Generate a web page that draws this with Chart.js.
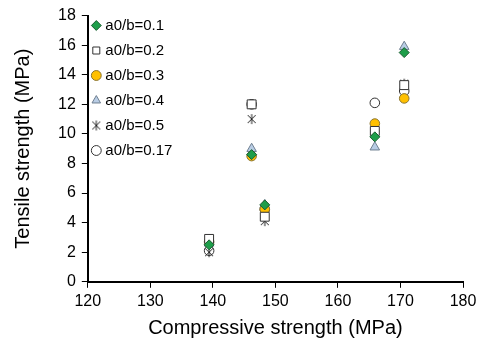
<!DOCTYPE html>
<html>
<head>
<meta charset="utf-8">
<script src="https://cdn.jsdelivr.net/npm/chart.js@4/dist/chart.umd.min.js"></script>
<style>
html,body{margin:0;padding:0;background:#fff;}
#wrap{width:481px;height:347px;}
</style>
</head>
<body>
<div id="wrap"><canvas id="c" width="481" height="347"></canvas></div>
<script>
const compressive = [139.4, 146.2, 148.3, 165.9, 170.6];
const s01  = [2.5, 8.6, 5.2, 9.8, 15.5];
const s02  = [2.9, 12.0, 4.4, 10.2, 13.3];
const s03  = [2.7, 8.5, 4.9, 10.7, 12.4];
const s04  = [2.6, 9.0, 5.2, 9.1, 15.9];
const s05  = [2.0, 11.0, 4.1, 10.3, 13.4];
const s017 = [2.1, 12.0, 4.9, 12.1, 12.9];
const seriesLabels = ['a0/b=0.1','a0/b=0.2','a0/b=0.3','a0/b=0.4','a0/b=0.5','a0/b=0.17'];
const xTicks = [120,130,140,150,160,170,180];
const yTicks = [0,2,4,6,8,10,12,14,16,18];

// asterisk marker (X plus vertical line)
function makeStar(r){
  const c = document.createElement('canvas');
  const s = r*2+2; c.width = s; c.height = s;
  const g = c.getContext('2d');
  g.strokeStyle = '#222'; g.lineWidth = 1;
  const m = s/2;
  g.beginPath();
  g.moveTo(m-r*0.8, m-r*0.8); g.lineTo(m+r*0.8, m+r*0.8);
  g.moveTo(m+r*0.8, m-r*0.8); g.lineTo(m-r*0.8, m+r*0.8);
  g.moveTo(m, m-r); g.lineTo(m, m+r);
  g.stroke();
  return c;
}
const starImg = makeStar(5);

const pts = arr => arr.map((v,i)=>({x:compressive[i], y:v}));
const styles = [
  {pointStyle:'rectRot', backgroundColor:'#1E9E4A', borderColor:'#1a5c30', pointRadius:5},
  {pointStyle:'rect', backgroundColor:'#FFFFFF', borderColor:'#333', pointRadius:6.3},
  {pointStyle:'circle', backgroundColor:'#FFC000', borderColor:'#8a7430', pointRadius:4.8},
  {pointStyle:'triangle', backgroundColor:'#B9CDE5', borderColor:'#6f7f90', pointRadius:5.5},
  {pointStyle:starImg, backgroundColor:'#222', borderColor:'#222', pointRadius:5},
  {pointStyle:'circle', backgroundColor:'#FFFFFF', borderColor:'#333', pointRadius:4.8}
];
const allSeries = [s01,s02,s03,s04,s05,s017];
const datasets = allSeries.map((s,i)=>Object.assign({
  label: seriesLabels[i], data: pts(s), borderWidth:1, pointBorderWidth:1
}, styles[i]));

const legendShift = {
  id:'legendShift',
  afterLayout(chart){
    const l = chart.legend;
    if (!l) return;
    l.top += 8; l.bottom += 8;
    l.left -= 3; l.right -= 3;
  }
};

new Chart(document.getElementById('c'), {
  type:'scatter',
  data:{datasets},
  plugins:[legendShift],
  options:{
    responsive:false, devicePixelRatio:1, animation:false,
    layout:{padding:{top:14,right:18,left:11,bottom:7}},
    plugins:{
      tooltip:{enabled:false},
      legend:{
        position:'chartArea', align:'start',
        labels:{usePointStyle:true, boxWidth:3, boxHeight:7, padding:10,
          color:'#000', font:{family:'Liberation Sans, Arial', size:15}}
      }
    },
    scales:{
      x:{type:'linear', min:120, max:180,
        afterBuildTicks: ax => { ax.ticks = xTicks.map(v=>({value:v})); },
        grid:{drawOnChartArea:false, drawTicks:true, tickLength:6, color:'#000', lineWidth:1},
        border:{color:'#000', width:2},
        ticks:{color:'#000', font:{family:'Liberation Sans, Arial', size:16}, padding:4, maxRotation:0},
        title:{display:true, text:'Compressive strength (MPa)', color:'#000',
          font:{family:'Liberation Sans, Arial', size:20}, padding:{top:1,bottom:0}}
      },
      y:{type:'linear', min:0, max:18,
        afterBuildTicks: ax => { ax.ticks = yTicks.map(v=>({value:v})); },
        grid:{drawOnChartArea:false, drawTicks:true, tickLength:6, color:'#000', lineWidth:1},
        border:{color:'#000', width:2},
        ticks:{color:'#000', font:{family:'Liberation Sans, Arial', size:16}, padding:6},
        title:{display:true, text:'Tensile strength (MPa)', color:'#000',
          font:{family:'Liberation Sans, Arial', size:20}, padding:{top:0,bottom:17}}
      }
    }
  }
});
</script>
</body>
</html>
